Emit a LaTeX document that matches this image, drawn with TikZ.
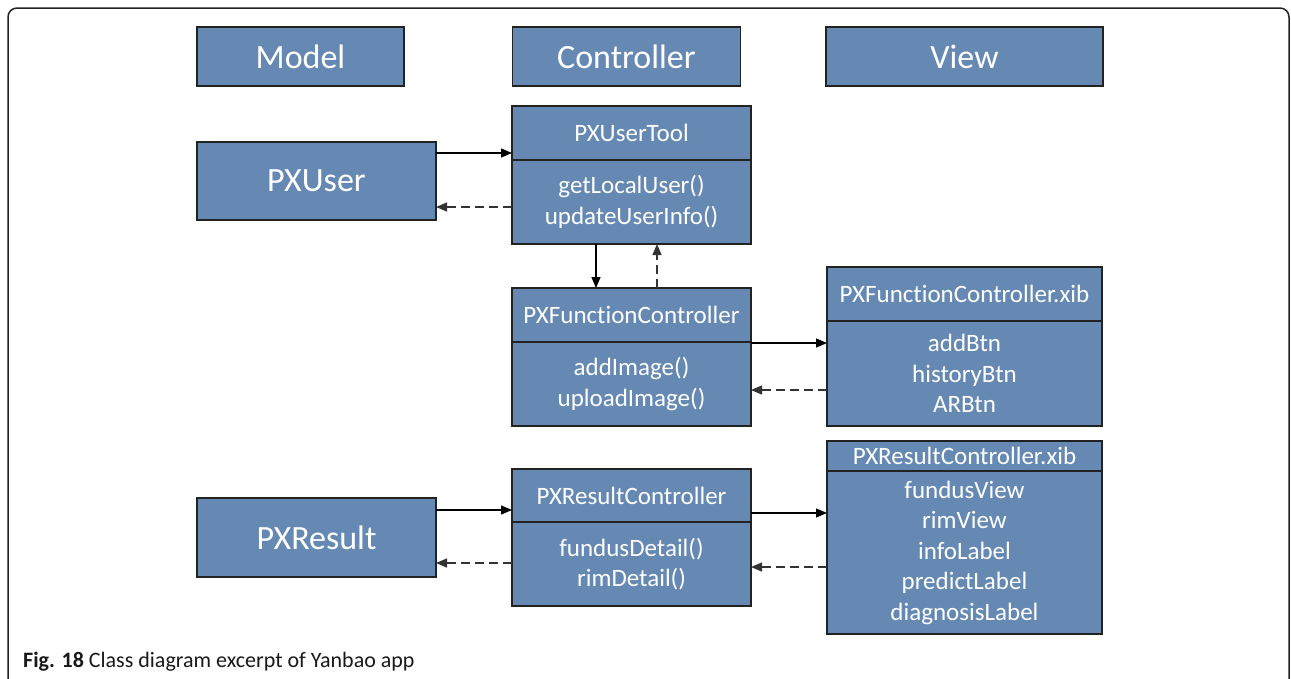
\documentclass[tikz,border=0pt]{standalone}
\usepackage{fontspec}
\setmainfont{Carlito}[Ligatures=NoCommon]
\usetikzlibrary{positioning, arrows.meta}

\definecolor{boxblue}{RGB}{101,137,179}
\definecolor{boxline}{RGB}{34,34,34}

\begin{document}
\begin{tikzpicture}[x=1pt,y=-1pt]
  \tikzset{HeadStyle/.style = {
    shape         = rectangle,
    draw          = boxline,
    fill          = boxblue,
    line width    = 1.5pt,
    text          = white,
    inner sep     = 0pt,
    outer sep     = 0pt,
    minimum height = 59pt,
    font          = \fontsize{34}{40}\selectfont
    }
  }
  \tikzset{TitleStyle/.style = {
    shape         = rectangle,
    draw          = boxline,
    fill          = boxblue,
    line width    = 1.5pt,
    text          = white,
    inner sep     = 0pt,
    outer sep     = 0pt,
    align         = center,
    font          = \fontsize{25}{30.5}\selectfont
    }
  }
  \tikzset{EdgeStyle/.style = {
    draw          = black,
    line width    = 1.3pt,
    -{Triangle[length=11pt,width=9pt]}
    }
  }
  \tikzset{EdgeDashed/.style = {
    EdgeStyle,
    draw          = black!80,
    dash pattern  = on 9pt off 5pt
    }
  }

  \useasboundingbox (0,0) rectangle (1291,678);
  \draw[boxline, line width=1.5pt, rounded corners=9pt] (8,8) rectangle (1289,720);

  % header row
  \node[HeadStyle, minimum width=207pt](HeadM) at (300.5,56.5) {Model};
  \node[HeadStyle, minimum width=228pt](HeadC) at (626.5,56.5) {Controller};
  \node[HeadStyle, minimum width=277pt](HeadV) at (964.5,56.5) {View};

  % model
  \node[HeadStyle, minimum width=239pt, minimum height=78pt](User) at (316.5,181) {PXUser};
  \node[HeadStyle, minimum width=239pt, minimum height=79pt](Result) at (316.5,537.5) {PXResult};

  % controller
  \node[TitleStyle, minimum width=239pt, minimum height=54pt](ToolT) at (631.5,133) {PXUserTool};
  \node[TitleStyle, minimum width=239pt, minimum height=84pt, below=0pt of ToolT](ToolB) {getLocalUser()\\updateUserInfo()};
  \node[TitleStyle, minimum width=239pt, minimum height=54pt](FuncT) at (631.5,315) {PXFunctionController};
  \node[TitleStyle, minimum width=239pt, minimum height=84pt, below=0pt of FuncT](FuncB) {addImage()\\uploadImage()};
  \node[TitleStyle, minimum width=239pt, minimum height=53pt](ResT) at (631.5,495.5) {PXResultController};
  \node[TitleStyle, minimum width=239pt, minimum height=84pt, below=0pt of ResT](ResB) {fundusDetail()\\rimDetail()};

  % view
  \node[TitleStyle, minimum width=275pt, minimum height=54pt](FxibT) at (964.5,294) {PXFunctionController.xib};
  \node[TitleStyle, minimum width=275pt, minimum height=105pt, below=0pt of FxibT](FxibB) {addBtn\\historyBtn\\ARBtn};
  \node[TitleStyle, minimum width=275pt, minimum height=30pt](RxibT) at (964.5,456) {PXResultController.xib};
  \node[TitleStyle, minimum width=275pt, minimum height=163pt, below=0pt of RxibT](RxibB) {fundusView\\rimView\\infoLabel\\predictLabel\\diagnosisLabel};

  % links
  \draw[EdgeStyle](User.east |- 0,153) to (ToolT.west |- 0,153);
  \draw[EdgeDashed](ToolB.west |- 0,207) to (User.east |- 0,207);
  \draw[EdgeStyle](ToolB.south -| 596,0) to (FuncT.north -| 596,0);
  \draw[EdgeDashed](FuncT.north -| 657,0) to (ToolB.south -| 657,0);
  \draw[EdgeStyle](FuncT.east |- 0,343) to (FxibB.west |- 0,343);
  \draw[EdgeDashed](FxibB.west |- 0,390) to (FuncB.east |- 0,390);
  \draw[EdgeStyle](Result.east |- 0,510) to (ResT.west |- 0,510);
  \draw[EdgeDashed](ResB.west |- 0,563) to (Result.east |- 0,563);
  \draw[EdgeStyle](ResT.east |- 0,513) to (RxibB.west |- 0,513);
  \draw[EdgeDashed](RxibB.west |- 0,567) to (ResB.east |- 0,567);

  \node[anchor=base west, inner sep=0pt, text=black!90, font=\fontsize{22}{26}\selectfont](Cap) at (23,667) {\textbf{Fig. 18} Class diagram excerpt of Yanbao app};
\end{tikzpicture}
\end{document}
